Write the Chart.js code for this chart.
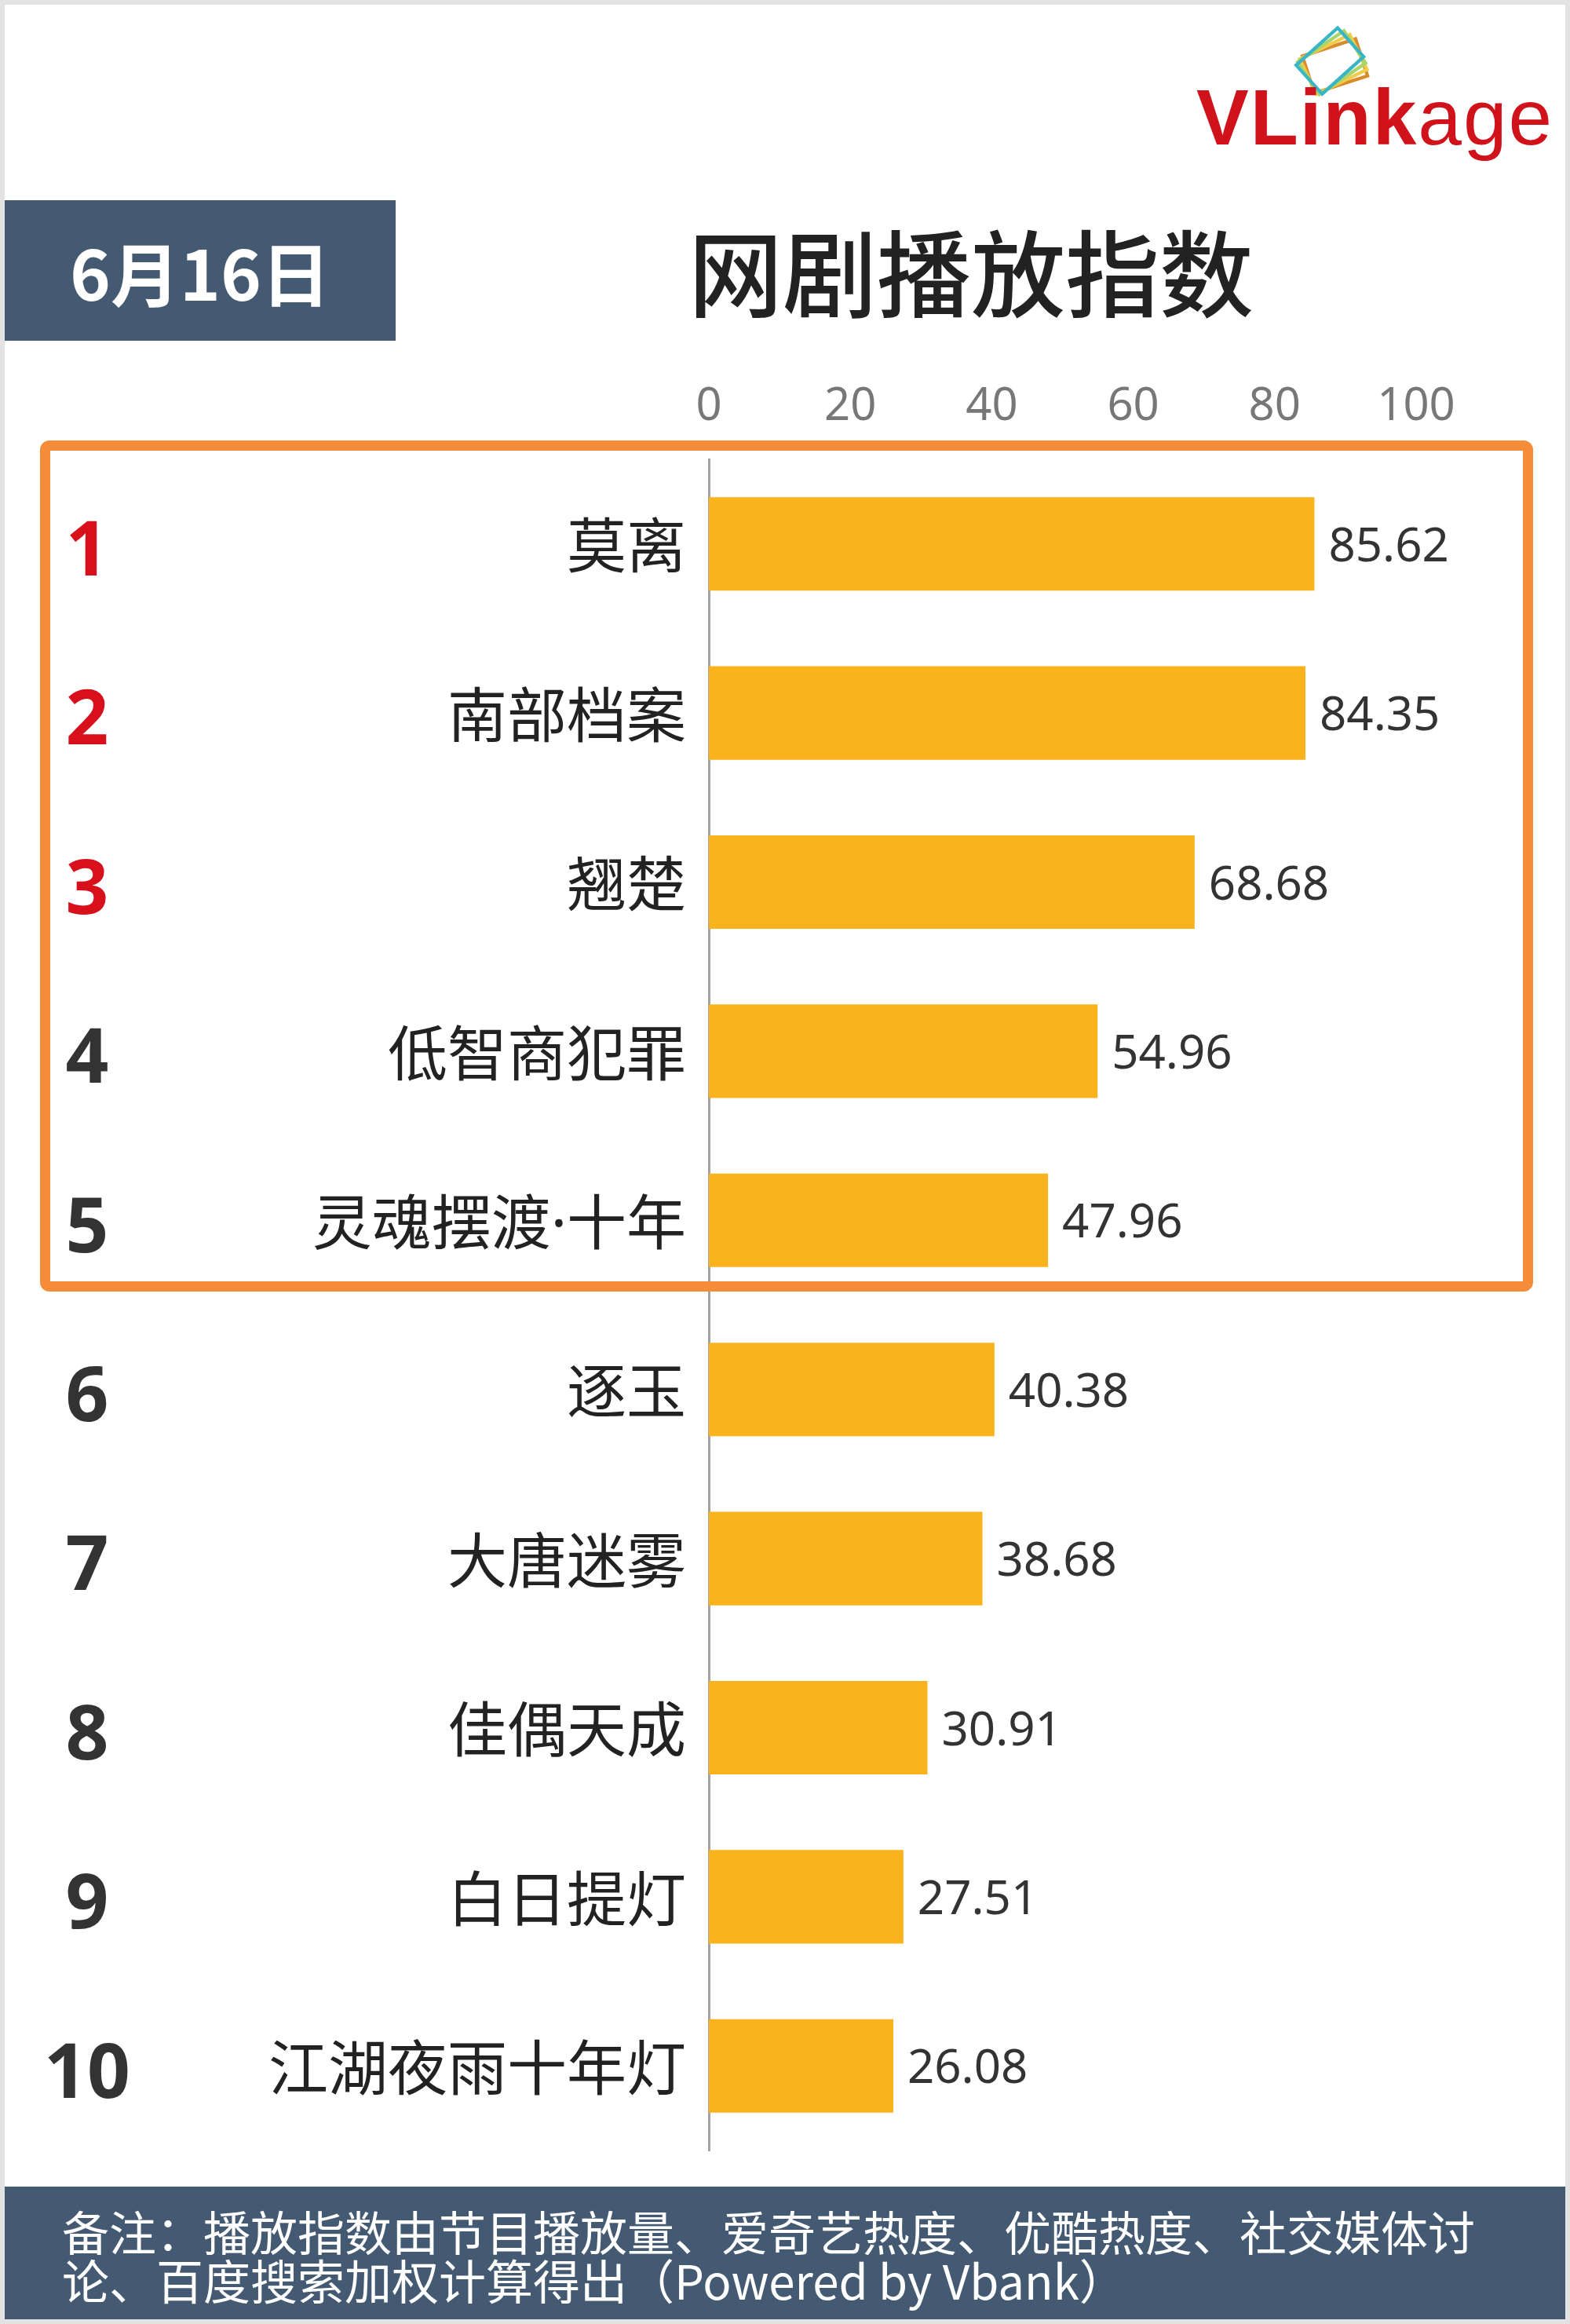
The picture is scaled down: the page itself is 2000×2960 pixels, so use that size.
<!DOCTYPE html>
<html>
<head>
<meta charset="utf-8">
<script src="https://cdn.jsdelivr.net/npm/chart.js@4.4.1/dist/chart.umd.min.js"></script>
<style>
  html, body { margin: 0; padding: 0; }
  body { width: 2000px; height: 2960px; background: #e3e3e3; position: relative; overflow: hidden;
         font-family: "Noto Sans CJK SC", "Noto Sans", sans-serif; }
  #panel { position: absolute; left: 6px; top: 6px; width: 1988px; height: 2948px; background: #fff; }
  #wrap { position: absolute; left: 0; top: 0; width: 2000px; height: 2960px; }
  #dateBox { position: absolute; left: 6px; top: 255px; width: 498px; height: 179px; background: #445a72;
             color: #fff; font-weight: bold; font-size: 88px; line-height: 179px; text-align: center; }
  #title { position: absolute; left: 780px; top: 268px; width: 914px; text-align: center; font-size: 120px;
           line-height: 150px; color: #222; font-weight: 500; }
  #logo { position: absolute; left: 1524px; top: 94px; font-family: "Liberation Sans", Arial, sans-serif;
          font-size: 100px; letter-spacing: 2px; color: #d0121b; line-height: 110px; white-space: nowrap; }
  #logo b { font-weight: bold; }
  #icon { position: absolute; left: 1622px; top: 28px; }
  #topBox { position: absolute; left: 51px; top: 561px; width: 1876px; height: 1058px;
            border: 13px solid #f58c3a; border-radius: 12px; }
  #footer { position: absolute; left: 6px; top: 2785px; width: 1988px; height: 169px; background: #445a72; }
  #note { position: absolute; left: 79px; top: 2810px; width: 1880px; color: #fff; font-size: 60px; line-height: 62px; }
</style>
</head>
<body>
<div id="panel"></div>
<div id="wrap"><canvas id="chart"></canvas></div>
<div id="dateBox">6月16日</div>
<div id="title">网剧播放指数</div>
<svg id="icon" width="140" height="110" viewBox="0 0 130 100">
  <g fill="none" stroke-width="4">
    <rect x="40" y="28" width="66" height="46" stroke="#d98a2b" transform="rotate(-18 73 51)"/>
    <rect x="38" y="26" width="66" height="46" stroke="#f0cc48" transform="rotate(-26 71 49)"/>
    <rect x="36" y="24" width="66" height="46" stroke="#a8d46a" transform="rotate(-34 69 47)"/>
    <rect x="34" y="22" width="66" height="46" stroke="#38b6c6" transform="rotate(-42 67 45)"/>
  </g>
</svg>
<div id="logo"><b>VLink</b>age</div>
<div id="topBox"></div>
<div id="footer"></div>
<div id="note">备注：播放指数由节目播放量、爱奇艺热度、优酷热度、社交媒体讨论、百度搜索加权计算得出（Powered by Vbank）</div>

<script>
const shows = ["莫离", "南部档案", "翘楚", "低智商犯罪", "灵魂摆渡·十年", "逐玉", "大唐迷雾", "佳偶天成", "白日提灯", "江湖夜雨十年灯"];
const playIndex = [85.62, 84.35, 68.68, 54.96, 47.96, 40.38, 38.68, 30.91, 27.51, 26.08];
const ranks = ["1", "2", "3", "4", "5", "6", "7", "8", "9", "10"];
const xTicks = [0, 20, 40, 60, 80, 100];

// value after each bar, rank number at far left
const labelsPlugin = {
    id: 'labels',
    afterDatasetsDraw(chart) {
        const ctx = chart.ctx;
        const yScale = chart.scales.y;
        const bars = chart.getDatasetMeta(0).data;
        ctx.save();
        ctx.textBaseline = 'middle';
        bars.forEach((bar, i) => {
            ctx.font = '60px "Noto Sans", sans-serif';
            ctx.fillStyle = '#333';
            ctx.textAlign = 'left';
            ctx.fillText(playIndex[i].toFixed(2), bar.x + 18, bar.y + 5);
        });
        ranks.forEach((r, i) => {
            ctx.font = 'bold 96px "Open Sans", sans-serif';
            ctx.fillStyle = i < 3 ? '#d7101c' : '#333';
            ctx.textAlign = 'center';
            ctx.fillText(r, 111, yScale.getPixelForValue(i) + 13);
        });
        ctx.restore();
    }
};

new Chart(document.getElementById('chart'), {
    type: 'bar',
    data: {
        labels: shows,
        datasets: [{
            data: playIndex,
            backgroundColor: '#fbb31d',
            barPercentage: 0.553,
            categoryPercentage: 1
        }]
    },
    options: {
        indexAxis: 'y',
        responsive: true,
        maintainAspectRatio: false,
        animation: false,
        layout: { padding: { left: 0, top: 0, right: 196, bottom: 221 } },
        plugins: { legend: { display: false }, tooltip: { enabled: false } },
        scales: {
            x: {
                position: 'top',
                min: 0,
                max: 100,
                afterBuildTicks: s => { s.ticks = xTicks.map(v => ({ value: v })); },
                afterFit: s => { s.height = 585; },
                grid: { display: false, drawTicks: false },
                border: { display: false },
                ticks: { color: '#777', padding: 32, font: { size: 58, family: '"Noto Sans", sans-serif' } }
            },
            y: {
                afterFit: s => { s.width = 903; },
                grid: { display: false, drawTicks: false },
                border: { display: true, color: '#a3a3a3', width: 3 },
                ticks: { color: '#222', padding: 29, labelOffset: 9,
                         font: { size: 76, family: '"Noto Sans", "Noto Sans CJK SC", sans-serif' } }
            }
        }
    },
    plugins: [labelsPlugin]
});
</script>
</body>
</html>
